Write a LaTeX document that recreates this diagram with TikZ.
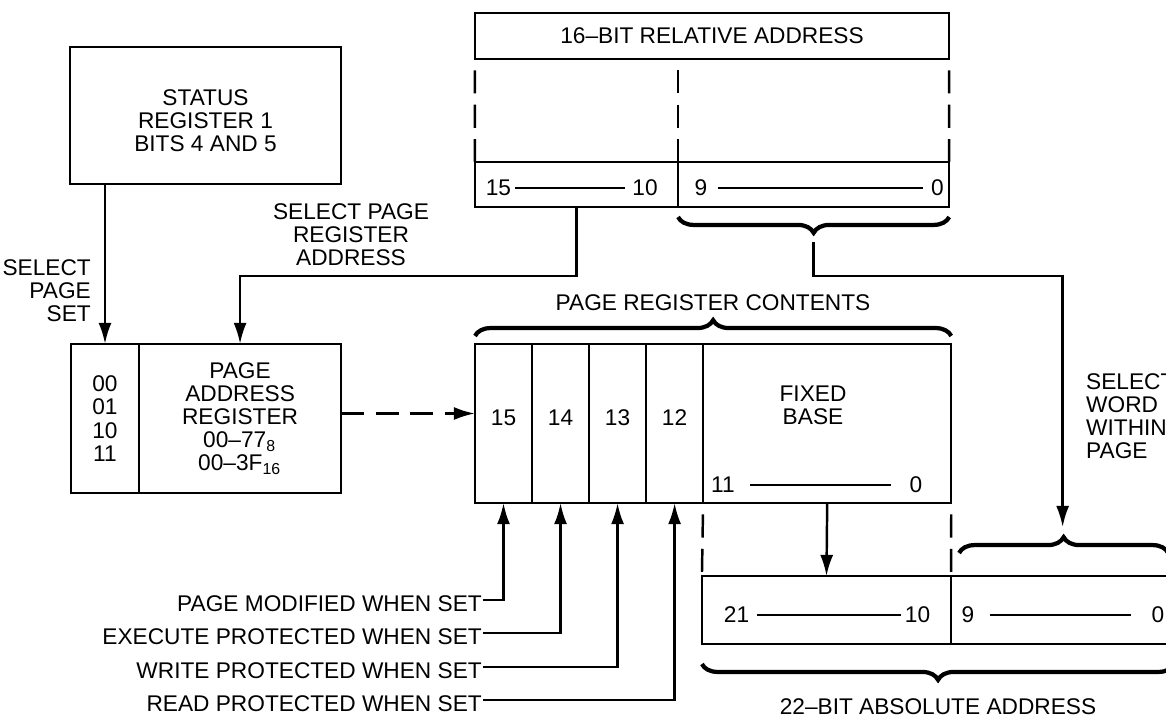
\documentclass[tikz,border=0pt]{standalone}
\usepackage{fontspec}
\setmainfont{Liberation Sans}
\usetikzlibrary{arrows.meta,calc,positioning,decorations.pathreplacing}

\begin{document}
\begin{tikzpicture}[x=0.01cm,y=-0.01cm,>={Latex[length=6pt,width=3.7pt]},
    font=\fontsize{6.45}{6.5}\selectfont,line width=0.7pt,
    box/.style={draw,inner sep=0pt,outer sep=0pt,align=center},
    cell/.style={box,minimum width=0.57cm,minimum height=1.59cm,text depth=3.4pt},
    bits/.style={inner sep=0pt},
    span/.style={line width=0.5pt},
    brk/.style={decorate,decoration={brace,amplitude=4.5pt},line width=1.2pt},
    dashv/.style={dash pattern=on 6.6pt off 3.2pt,dash phase=6.6pt}]
        \useasboundingbox (0,0) rectangle (1166,724);

        % status register and page address register
        \node[box,minimum width=2.71cm,minimum height=1.37cm] (status) at (205.5,115.5) {};
        \node[align=center] (stattxt) at (205.5,121) {STATUS\\REGISTER 1\\BITS 4 AND 5};
        \node[box,minimum width=0.68cm,minimum height=1.49cm,font=\fontsize{6.45}{6.7}\selectfont] (pset) at (105,418.5) {00\\01\\10\\11};
        \node[box,minimum width=2.02cm,minimum height=1.49cm,font=\fontsize{6.45}{6.6}\selectfont,right=0pt of pset] (paddr) {PAGE\\ADDRESS\\REGISTER\\00--77\textsubscript{8}\\00--3F\textsubscript{16}};
        \node[bits,align=right,anchor=east] (lsetsel) at (92,290.5) {SELECT\\PAGE\\SET};
        \node[align=center] (lregsel) at (351,235) {SELECT PAGE\\REGISTER\\ADDRESS};

        % 16-bit relative address
        \node[box,minimum width=4.74cm,minimum height=0.46cm] (rel) at (712,36) {16--BIT RELATIVE ADDRESS};
        \node[box,minimum width=2.03cm,minimum height=0.45cm] (relhi) at (576.5,184.5) {};
        \node[box,minimum width=2.71cm,minimum height=0.45cm,right=0pt of relhi] (rello) {};
        \draw[dashv] (rel.south west) -- (relhi.north west);
        \draw[dashv] (relhi.north east |- rel.south) -- (relhi.north east);
        \draw[dashv] (rel.south east) -- (rello.north east);
        \node[bits] (r15) at (498.5,188) {15};
        \node[bits] (r10) at (645,188) {10};
        \draw[span,shorten <=0.03cm,shorten >=0.06cm] (r15) -- (r10);
        \node[bits] (r9) at (701,188) {9};
        \node[bits] (r0) at (937.5,188) {0};
        \draw[span,shorten <=0.09cm,shorten >=0.07cm] (r9) -- (r0);
        \draw[brk] ($(rello.south east)+(0,10)$) -- ($(rello.south west)+(0,10)$);
        \coordinate (reltip) at ($(rello.south)+(0,35)$);

        % page register
        \node[cell] (c15) at (503.5,423.5) {15};
        \node[cell,right=0pt of c15] (c14) {14};
        \node[cell,right=0pt of c14] (c13) {13};
        \node[cell,right=0pt of c13] (c12) {12};
        \node[box,minimum width=2.48cm,minimum height=1.59cm,right=0pt of c12] (fbase) {};
        \node[align=center] (fbtxt) at (813,405) {FIXED\\BASE};
        \node[bits] (f11) at (723,485) {11};
        \node[bits] (f0) at (916,485) {0};
        \draw[span,shorten <=0.14cm,shorten >=0.17cm] (f11) -- (f0);
        \draw[brk] ($(c15.north west)+(0,-8)$) -- ($(fbase.north east)+(0,-8)$);
        \node (lprc) at (713,303) {PAGE REGISTER CONTENTS};

        % 22-bit absolute address
        \node[box,minimum width=2.49cm,minimum height=0.68cm] (absl) at (826.5,610) {};
        \node[box,minimum width=2.23cm,minimum height=0.68cm,right=0pt of absl] (absr) {};
        \draw[dashv] (fbase.south west) -- (absl.north west);
        \draw[dashv] (fbase.south east) -- (absl.north east);
        \node[bits] (a21) at (736.5,615) {21};
        \node[bits] (a10) at (917.5,615) {10};
        \draw[span,shorten <=0.07cm,shorten >=0.03cm] (a21) -- (a10);
        \node[bits] (a9) at (968,615) {9};
        \node[bits] (a0) at (1158,615) {0};
        \draw[span,shorten <=0.14cm,shorten >=0.19cm] (a9) -- (a0);
        \draw[brk] ($(absr.north west)+(8,-23)$) -- ($(absr.north east)+(-6,-23)$);
        \draw[brk] ($(absr.south east)+(0,20)$) -- ($(absl.south west)+(0,20)$);
        \node (labs) at (938,707) {22--BIT ABSOLUTE ADDRESS};
        \coordinate (wordtip) at ($(absr.north)+(0,-49)$);
        \node[bits,align=left,anchor=west] (lwordsel) at (1085,416) {SELECT\\WORD\\WITHIN\\PAGE};

        % flag bits
        \node[bits,anchor=east] (lpm) at (483,604) {PAGE MODIFIED WHEN SET};
        \node[bits,anchor=east] (lep) at (483,637) {EXECUTE PROTECTED WHEN SET};
        \node[bits,anchor=east] (lwp) at (483,671) {WRITE PROTECTED WHEN SET};
        \node[bits,anchor=east] (lrp) at (483,704) {READ PROTECTED WHEN SET};

        % connectors
        \draw[->] (pset.north |- status.south) -- (pset.north);
        \draw[->] (relhi.south) |- ($(paddr.north)+(0,-68)$) -- (paddr.north);
        \draw[->] (reltip) |- ($(absr.north)+(0,-300)$) -- (wordtip);
        \draw[->,dash pattern=on 6.6pt off 3.2pt] ($(paddr.east)+(0,-5)$) -- ($(paddr.east -| c15.west)+(0,-5)$);
        \draw[->] (fbase.south) -- (absl.north);
        \draw[->] ([yshift=1.2pt]lpm.east) -| (c15.south);
        \draw[->] ([yshift=1.2pt]lep.east) -| (c14.south);
        \draw[->] ([yshift=1.2pt]lwp.east) -| (c13.south);
        \draw[->] ([yshift=1.2pt]lrp.east) -| (c12.south);
\end{tikzpicture}
\end{document}
